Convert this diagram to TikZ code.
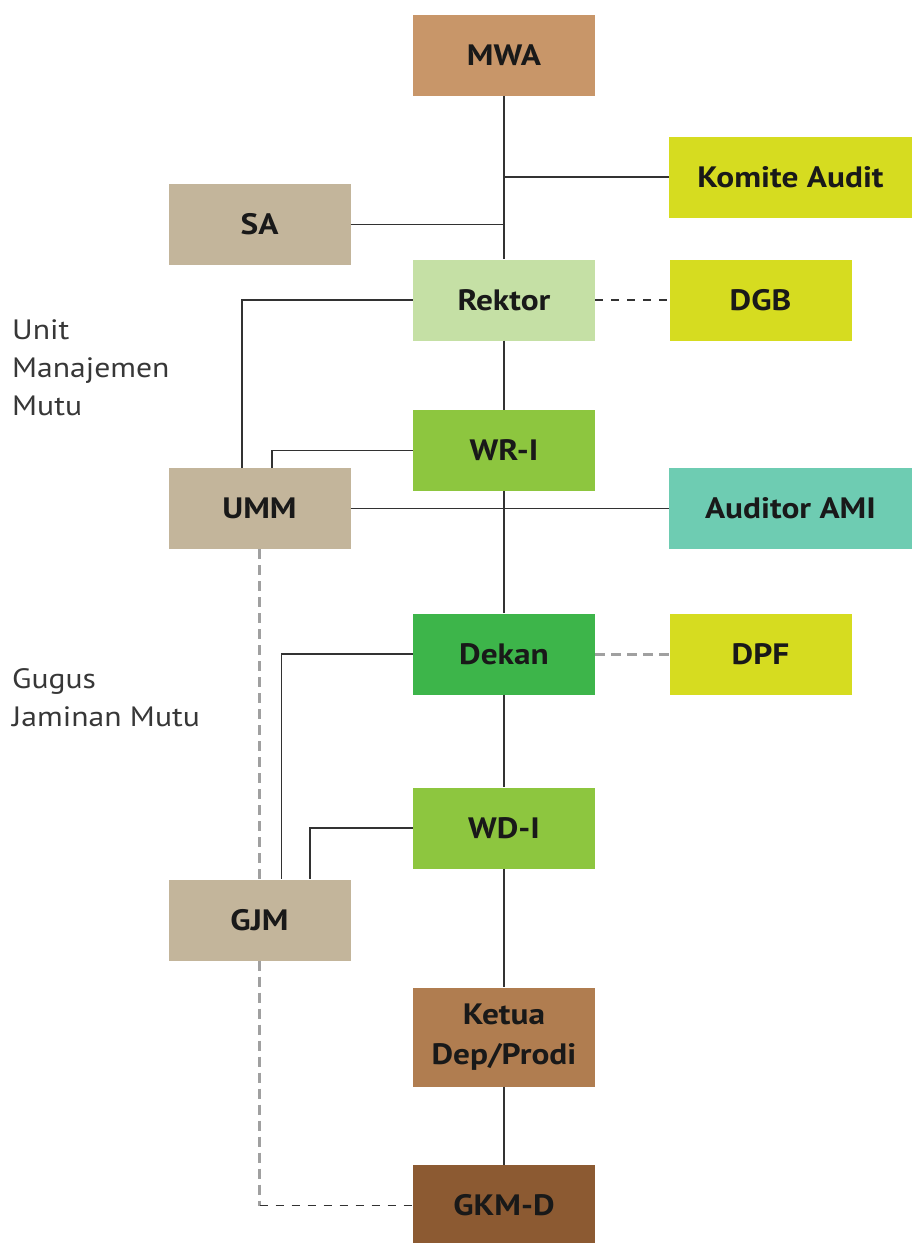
\documentclass[tikz,border=0pt]{standalone}
\usepackage{fontspec}
\setmainfont{PT Sans}[FakeStretch=1.13]
\usetikzlibrary{calc}
\definecolor{cMWA}{RGB}{200,150,105}
\definecolor{cYel}{RGB}{214,220,32}
\definecolor{cBeige}{RGB}{195,181,155}
\definecolor{cRek}{RGB}{197,224,165}
\definecolor{cWR}{RGB}{141,198,63}
\definecolor{cAud}{RGB}{110,204,178}
\definecolor{cDek}{RGB}{61,181,74}
\definecolor{cKet}{RGB}{176,125,80}
\definecolor{cGKM}{RGB}{140,90,50}
\definecolor{cLine}{RGB}{50,50,50}
\definecolor{cGray}{RGB}{160,160,160}
\definecolor{cTxt}{RGB}{25,25,25}
\definecolor{cLab}{RGB}{55,55,55}
\tikzset{
  box/.style={rectangle, inner sep=0pt, minimum width=182pt, minimum height=81pt,
    font=\fontsize{29.5}{40}\selectfont\bfseries, text=cTxt, align=center},
  wide/.style={box, minimum width=243pt},
  link/.style={draw=cLine, line width=1.7pt},
  dlink/.style={draw=cLine, line width=1.7pt, dash pattern=on 8pt off 8pt},
  glink/.style={draw=cGray, line width=3pt, dash pattern=on 10pt off 6pt},
  lab/.style={anchor=north west, inner sep=0pt, align=left, text=cLab,
    font=\fontsize{28}{38}\selectfont}
}
\begin{document}
\begin{tikzpicture}[x=1pt,y=-1pt]
\useasboundingbox (0,0) rectangle (912,1243);
\fill[white] (0,0) rectangle (912,1243);
% nodes
\node[box, fill=cMWA] (mwa) at (504,55.5) {MWA};
\node[wide, fill=cYel] (komite) at (790.5,177) {Komite Audit};
\node[box, fill=cBeige] (sa) at (259.5,224.5) {SA};
\node[box, fill=cRek] (rektor) at (504,300) {Rektor};
\node[box, fill=cYel] (dgb) at (760.5,300) {DGB};
\node[box, fill=cWR] (wr) at (504,450.5) {WR-I};
\node[box, fill=cBeige] (umm) at (259.5,508.5) {UMM};
\node[wide, fill=cAud] (auditor) at (790.5,508.5) {Auditor AMI};
\node[box, fill=cDek] (dekan) at (504,654) {Dekan};
\node[box, fill=cYel] (dpf) at (760.5,654) {DPF};
\node[box, fill=cWR] (wd) at (504,828) {WD-I};
\node[box, fill=cBeige] (gjm) at (259.5,920) {GJM};
\node[box, fill=cKet, minimum height=99pt] (ketua) at (504,1037) {Ketua\\Dep/Prodi};
\node[box, fill=cGKM] (gkmd) at (504,1205.5) {GKM-D};
% side labels
\node[lab] (lumm) at (12,319) {Unit\\Manajemen\\Mutu};
\node[lab] (lgjm) at (12,668) {Gugus\\Jaminan Mutu};
% main spine
\draw[link] (mwa.south) -- (rektor.north);
\draw[link] (rektor.south) -- (wr.north);
\draw[link] (wr.south) -- (dekan.north);
\draw[link] (dekan.south) -- (wd.north);
\draw[link] (wd.south) -- (ketua.north);
\draw[link] (ketua.south) -- (gkmd.north);
% side branches
\draw[link] (komite.west) -- (komite.west -| mwa.south);
\draw[link] (sa.east) -- (sa.east -| mwa.south);
\draw[dlink] (rektor.east) -- (dgb.west);
\draw[link] (rektor.west) -| ([xshift=-17.5pt]umm.north);
\draw[link] (wr.west) -| ([xshift=12.5pt]umm.north);
\draw[link] (umm.east) -- (auditor.west);
\draw[glink] (umm.south) -- (gjm.north);
\draw[link] (dekan.west) -| ([xshift=22pt]gjm.north);
\draw[link] (wd.west) -| ([xshift=50.5pt]gjm.north);
\draw[glink] (dekan.east) -- (dpf.west);
\coordinate (corner) at (gjm.south |- gkmd.west);
\draw[glink] (gjm.south) -- (corner);
\draw[dlink] (corner) -- (gkmd.west);
\end{tikzpicture}
\end{document}
